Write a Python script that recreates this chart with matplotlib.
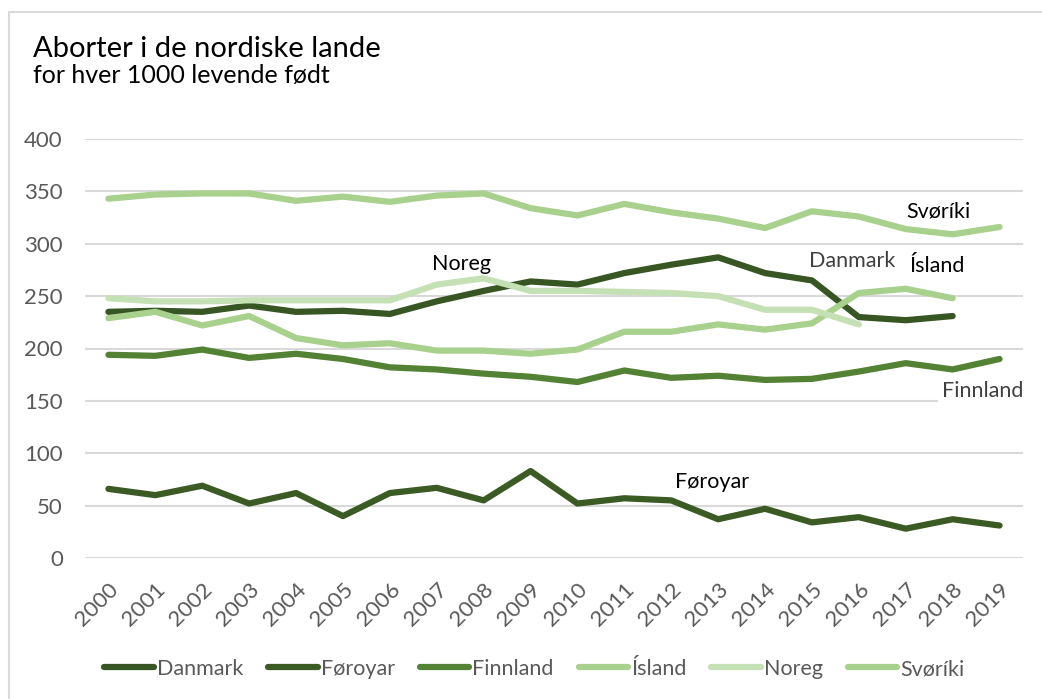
import matplotlib
matplotlib.use('Agg')
import matplotlib.pyplot as plt
from matplotlib.patches import Rectangle

plt.rcParams['font.family'] = ['Lato', 'DejaVu Sans']

years = [str(y) for y in range(2000, 2020)]

# abortir fyri hvørjar 1000 livandi fødd
danmark = [235, 236, 235, 241, 235, 236, 233, 245, 255, 264,
           261, 272, 280, 287, 272, 265, 230, 227, 231]
foroyar = [66, 60, 69, 52, 62, 40, 62, 67, 55, 83,
           52, 57, 55, 37, 47, 34, 39, 28, 37, 31]
finnland = [194, 193, 199, 191, 195, 190, 182, 180, 176, 173,
            168, 179, 172, 174, 170, 171, 178, 186, 180, 190]
island = [229, 235, 222, 231, 210, 203, 205, 198, 198, 195,
          199, 216, 216, 223, 218, 224, 253, 257, 248]
noreg = [248, 245, 245, 246, 246, 246, 246, 261, 267, 255,
         255, 254, 253, 250, 237, 237, 223]
svoriki = [343, 347, 348, 348, 341, 345, 340, 346, 348, 334,
           327, 338, 330, 324, 315, 331, 326, 314, 309, 316]

names = ['Danmark', 'Føroyar', 'Finnland', 'Ísland', 'Noreg', 'Svøríki']
series = [danmark, foroyar, finnland, island, noreg, svoriki]
colors = ['#375623', '#3b5a24', '#548235', '#a9d18e', '#c5e0b4', '#a9d18e']

fig = plt.figure(figsize=(10.42, 6.99), dpi=100)
ax = fig.add_axes([85/1042, 1-558/699, (1023-85)/1042, (558-139)/699])

for name, vals, c in zip(names, series, colors):
    ax.plot(range(len(vals)), vals, color=c, linewidth=4.5,
            solid_capstyle='round', solid_joinstyle='round', label=name, zorder=3)

ax.set_xlim(-0.5, 19.5)
ax.set_ylim(0, 400)
ax.set_yticks(range(0, 401, 50))
ax.set_xticks(range(20))
ax.set_xticklabels(years, rotation=45, ha='right', va='top', rotation_mode='anchor')
ax.grid(axis='y', color='#d9d9d9', linewidth=1.5, zorder=0)
ax.tick_params(axis='both', length=0, labelsize=16, labelcolor='#595959')
ax.tick_params(axis='y', pad=16)
ax.tick_params(axis='x', pad=15)
for s in ax.spines.values():
    s.set_visible(False)

# etikettir
ax.text(7.53, 281, 'Noreg', fontsize=15.5, color='black', ha='center', va='center')
ax.text(15.85, 284, 'Danmark', fontsize=15.5, color='#404040', ha='center', va='center')
ax.text(17.67, 279, 'Ísland', fontsize=15.5, color='black', ha='center', va='center')
ax.text(17.69, 331, 'Svøríki', fontsize=15.5, color='black', ha='center', va='center')
ax.text(18.65, 159, 'Finnland', fontsize=15.5, color='#404040', ha='center', va='center',
        bbox=dict(facecolor='white', edgecolor='none', pad=3), zorder=4)
ax.text(12.87, 73, 'Føroyar', fontsize=15.5, color='black', ha='center', va='center')

fig.text(33/1042, 1-57/699, 'Aborter i de nordiske lande', fontsize=21, color='black',
         va='baseline')
fig.text(33/1042, 1-83/699, 'for hver 1000 levende født', fontsize=18, color='black',
         va='baseline')

leg = fig.legend(loc='center', bbox_to_anchor=(0.513, 1-669/699), ncol=6, frameon=False,
                 fontsize=15.5, handlelength=2.3, handletextpad=0.15, columnspacing=1.15)
for t in leg.get_texts():
    t.set_color('#595959')

fig.patches.append(Rectangle((9/1042, -0.1), 2, 1.1-12/699, transform=fig.transFigure,
                             fill=False, edgecolor='#d9d9d9', linewidth=1.5))

fig.savefig('out.png', dpi=100)
